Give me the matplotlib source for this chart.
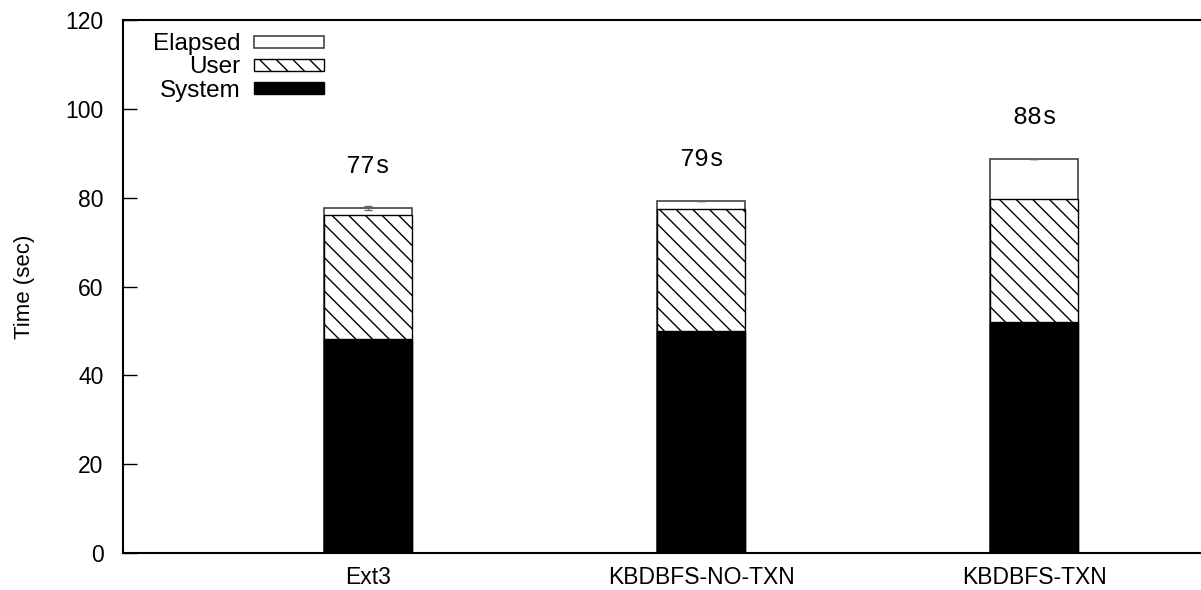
import matplotlib
matplotlib.use('Agg')
import matplotlib.pyplot as plt
import numpy as np

plt.rcParams['font.family'] = ['Liberation Sans', 'DejaVu Sans']
plt.rcParams['hatch.linewidth'] = 1.0

categories = ['Ext3', 'KBDBFS-NO-TXN', 'KBDBFS-TXN']
system = [48.2, 50.0, 52.0]
user = [27.8, 27.5, 27.7]
elapsed = [77.7, 79.3, 88.7]
elapsed_err = [0.4, 0.0, 0.0]
top_labels = ['77s', '79s', '88s']

fig = plt.figure(figsize=(12.01, 5.90), dpi=100)
ax = fig.add_axes([0.1024, 0.0627, 0.8976, 0.9034])

x = np.arange(1, len(categories) + 1)
w = 0.264
sys_arr = np.array(system)
usr_top = sys_arr + np.array(user)

b_el = ax.bar(x, elapsed, w, color='white', edgecolor='#444444', linewidth=1.2, label='Elapsed')
ax.errorbar(x, elapsed, yerr=elapsed_err, fmt='none', ecolor='#666666', elinewidth=1, capsize=3)
b_us = ax.bar(x, usr_top, w, color='white', edgecolor='black', linewidth=1.0, hatch='\\\\', label='User')
b_sy = ax.bar(x, system, w, color='black', edgecolor='black', linewidth=1.0, label='System')

for xi, t, lab in zip(x, elapsed, top_labels):
    ax.text(xi, t + 9.5, lab, ha='center', va='center', fontsize=18,
            family=['Liberation Mono', 'DejaVu Sans Mono'])

ax.set_xlim(0.265, 3.5)
ax.set_ylim(0, 120)
ax.set_yticks(range(0, 121, 20))
ax.set_xticks(x)
ax.set_xticklabels(categories, fontsize=16.5)
ax.tick_params(axis='y', direction='in', length=10, width=1, labelsize=16.5, pad=14)
ax.tick_params(axis='x', length=0, pad=9)
ax.set_ylabel('Time (sec)', fontsize=16, labelpad=22)
for s in ['left', 'top', 'bottom']:
    ax.spines[s].set_linewidth(1.5)
ax.spines['right'].set_visible(False)

ax.legend([b_el, b_us, b_sy], ['Elapsed', 'User', 'System'], loc='upper left',
          bbox_to_anchor=(0.012, 1.007), frameon=False, markerfirst=False, fontsize=17.5,
          handlelength=2.9, handleheight=0.38, labelspacing=0.05, handletextpad=0.55,
          borderaxespad=0.3)

fig.savefig('out.png', dpi=100)
